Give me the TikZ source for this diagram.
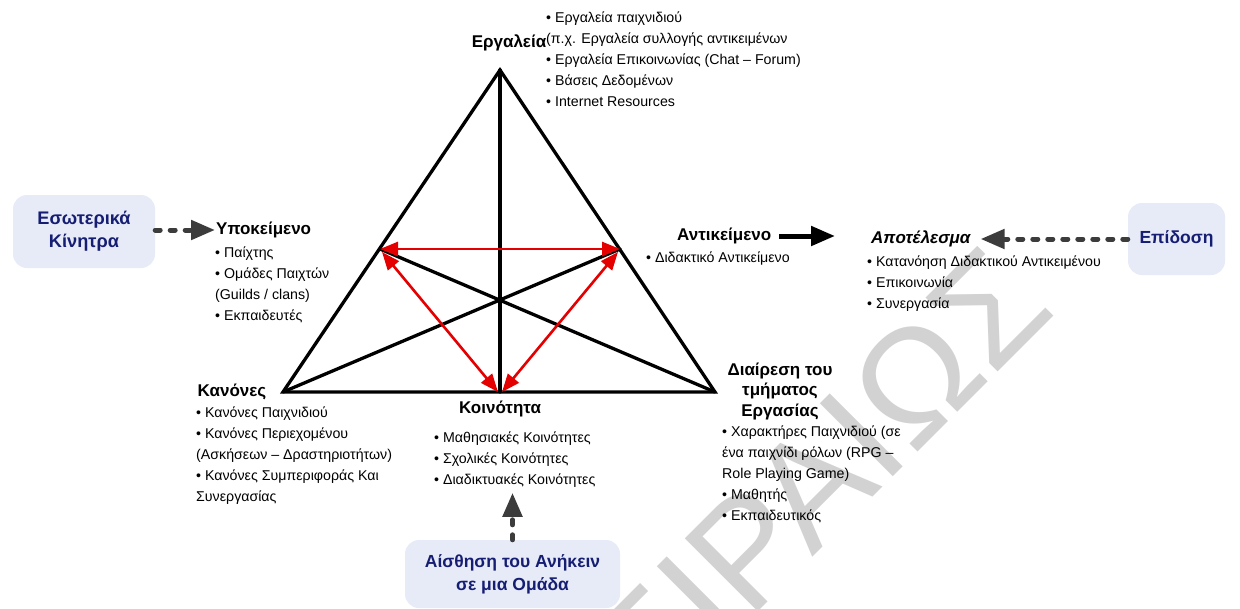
\documentclass[tikz,border=0pt]{standalone}
\usepackage{fontspec}
\setmainfont{Liberation Sans}
\usetikzlibrary{arrows.meta}
\definecolor{boxfill}{RGB}{231,235,247}
\definecolor{boxtext}{RGB}{22,30,115}
\definecolor{redline}{RGB}{228,0,0}
\definecolor{darkline}{RGB}{60,60,60}
\definecolor{wmark}{RGB}{210,210,210}
\begin{document}
\begin{tikzpicture}[x=1pt,y=-1pt,
  edge/.style={line width=3.3pt, line join=miter, line cap=round},
  redarr/.style={draw=redline, line width=2.6pt,
    arrows={Triangle[length=18pt,width=14pt]-Triangle[length=18pt,width=14pt]}},
  dasharr/.style={draw=darkline, line width=5pt, dash pattern=on 5pt off 10pt,
    line cap=round, -{Triangle[length=24pt,width=19pt,line cap=butt]}},
  solidarr/.style={draw=black, line width=5pt, -{Triangle[length=24pt,width=19pt]}},
  head/.style={font=\fontsize{17}{20.5}\selectfont\bfseries, inner sep=0pt},
  itemlist/.style={font=\fontsize{14.2}{21}\selectfont, align=left, inner sep=0pt, anchor=north west},
  infobox/.style={rounded corners=14pt, fill=boxfill, text=boxtext,
    font=\fontsize{17.5}{23}\selectfont\bfseries, align=center, inner sep=0pt},
  wmtext/.style={text=wmark, font=\fontsize{150}{150}\selectfont, inner sep=0pt}]
\useasboundingbox (0,0) rectangle (1240,608);
\fill[white] (0,0) rectangle (1240,608);

% faint watermark in the background
\begin{scope}
  \clip (0,0) rectangle (1240,608);
  \node[wmtext, rotate=45, anchor=base east] (wm) at (1058,312) {ΠΕΙΡΑΙΩΣ};
\end{scope}

% corners of the activity triangle and the points on its sides
\coordinate (T) at (500,70);
\coordinate (L) at (283,392);
\coordinate (R) at (715,392);
\coordinate (B) at (500,392);
\coordinate (S) at (380,249);
\coordinate (O) at (620,249);

\draw[edge] (T) -- (L) -- (R) -- cycle;
\draw[edge] (T) -- (B);
\draw[edge] (S) -- (R);
\draw[edge] (O) -- (L);

% red relations between subject, object and community
\draw[redarr] (S) -- (O);
\draw[redarr] ([xshift=2pt,yshift=-3pt]S) -- ([xshift=-2pt]B);
\draw[redarr] ([xshift=-2pt,yshift=-3pt]O) -- ([xshift=2pt]B);

% tools
\node[head] (tool) at (509,43) {Εργαλεία};
\node[itemlist] (toollist) at (546,12) {• Εργαλεία παιχνιδιού\\(π.χ. Εργαλεία συλλογής αντικειμένων\\• Εργαλεία Επικοινωνίας (Chat – Forum)\\• Βάσεις Δεδομένων\\• Internet Resources};

% subject
\node[head, anchor=west] (sub) at (216,230) {Υποκείμενο};
\node[itemlist] (sublist) at (215,246.5) {• Παίχτης\\• Ομάδες Παιχτών\\(Guilds / clans)\\• Εκπαιδευτές};

% object
\node[head, anchor=west] (obj) at (677,236) {Αντικείμενο};
\node[itemlist] (objlist) at (646,251.5) {• Διδακτικό Αντικείμενο};

% outcome
\node[head, anchor=west, font=\fontsize{17}{20.5}\selectfont\bfseries\itshape] (res) at (871,239) {Αποτέλεσμα};
\node[itemlist] (reslist) at (867,256) {• Κατανόηση Διδακτικού Αντικειμένου\\• Επικοινωνία\\• Συνεργασία};

% rules
\node[head] (rules) at (232,392) {Κανόνες};
\node[itemlist] (ruleslist) at (196,406.5) {• Κανόνες Παιχνιδιού\\• Κανόνες Περιεχομένου\\(Ασκήσεων – Δραστηριοτήτων)\\• Κανόνες Συμπεριφοράς Και\\Συνεργασίας};

% community
\node[head] (comm) at (500,409) {Κοινότητα};
\node[itemlist] (commlist) at (434,431.5) {• Μαθησιακές Κοινότητες\\• Σχολικές Κοινότητες\\• Διαδικτυακές Κοινότητες};

% division of labour
\node[head, align=center] (div) at (780,391) {Διαίρεση του\\τμήματος\\Εργασίας};
\node[itemlist] (divlist) at (722,425.5) {• Χαρακτήρες Παιχνιδιού (σε\\ένα παιχνίδι ρόλων (RPG –\\Role Playing Game)\\• Μαθητής\\• Εκπαιδευτικός};

% external influences
\node[infobox, minimum width=142pt, minimum height=73pt, font=\fontsize{18.2}{23}\selectfont\bfseries] (inbox) at (84,231.5) {Εσωτερικά\\Κίνητρα};
\node[infobox, minimum width=97pt, minimum height=72pt] (perf) at (1176.5,239) {Επίδοση};
\node[infobox, minimum width=215pt, minimum height=68pt] (belong) at (512.5,574) {Αίσθηση του Ανήκειν\\σε μια Ομάδα};

% connectors
\draw[dasharr] (inbox.east |- sub.west) -- ([xshift=-1pt]sub.west);
\draw[dasharr] (perf.west |- res.east) -- ([xshift=10pt]res.east);
\draw[dasharr] (belong.north) -- ([yshift=47pt]belong.north);
\draw[solidarr] ([xshift=8pt]obj.east) -- ([xshift=-36pt]res.west |- obj.east);
\end{tikzpicture}
\end{document}
